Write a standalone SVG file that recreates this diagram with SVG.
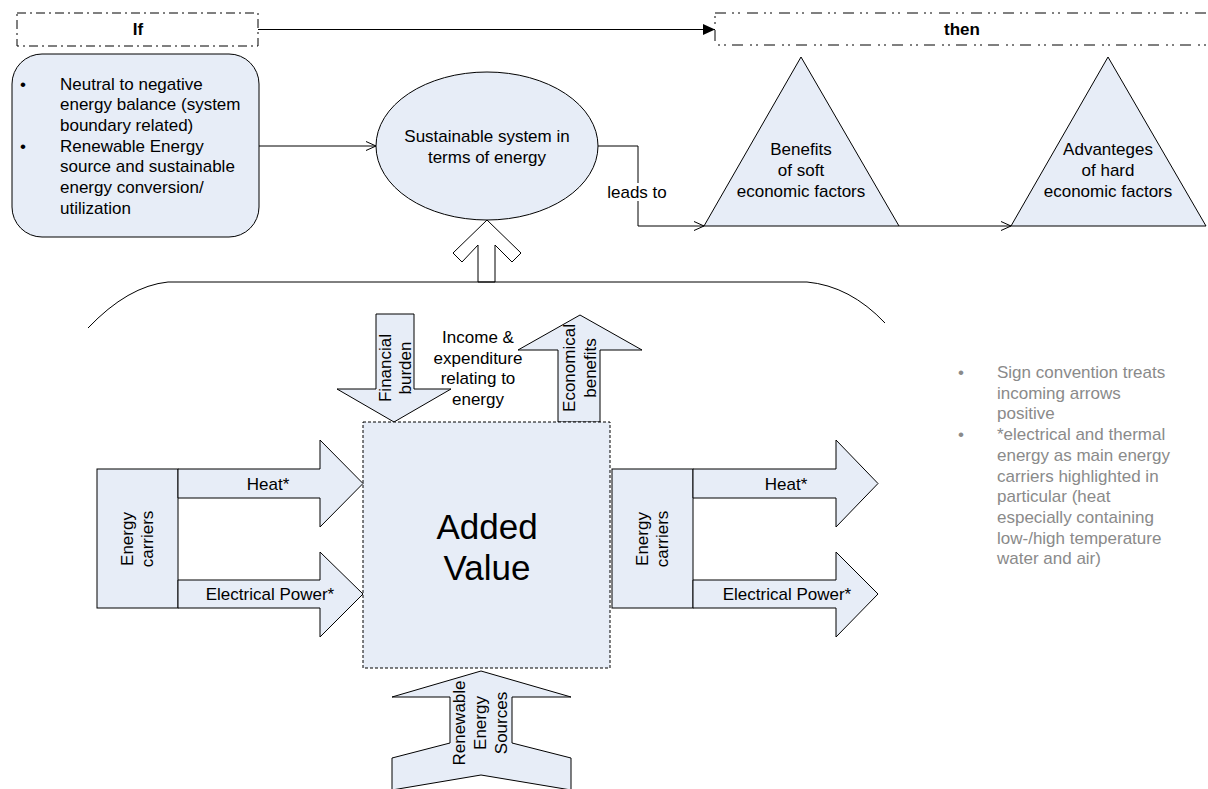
<svg xmlns="http://www.w3.org/2000/svg" width="1208" height="789" viewBox="0 0 1208 789">
<style>
.sh{fill:#e7edf7;stroke:#000;stroke-width:1}
.ol{fill:#fff;stroke:#000;stroke-width:1}
.ln{fill:none;stroke:#000;stroke-width:1}
.t{font-family:"Liberation Sans",Arial,sans-serif;font-size:17px;fill:#000}
.c{text-anchor:middle}
.b{font-weight:bold}
.g{fill:#8a8a8a}
.big{font-size:35px}
</style>
<defs>
<marker id="open" viewBox="0 0 10 10" refX="10" refY="5" markerWidth="10" markerHeight="10" markerUnits="userSpaceOnUse" orient="auto">
<path d="M0,0.5 L10,5 L0,9.5" fill="none" stroke="#000" stroke-width="1"/>
</marker>
<marker id="solid" viewBox="0 0 12 11" refX="12" refY="5.5" markerWidth="12" markerHeight="11" markerUnits="userSpaceOnUse" orient="auto">
<path d="M0,0 L12,5.5 L0,11 z" fill="#000"/>
</marker>
</defs>
<rect width="1208" height="789" fill="#fff"/>

<g id="connectors">
<line class="ln" x1="258" y1="29.5" x2="715" y2="29.5" marker-end="url(#solid)"/>
<line class="ln" x1="259" y1="146" x2="376" y2="146" marker-end="url(#open)"/>
<polyline class="ln" points="598,146 638,146 638,226 704,226" marker-end="url(#open)"/>
<rect x="615" y="183" width="45" height="18" fill="#fff"/>
<text class="t c" x="637" y="198">leads to</text>
<line class="ln" x1="899" y1="226" x2="1011" y2="226" marker-end="url(#open)"/>
</g>

<g id="if">
<rect x="17" y="13" width="241" height="33" fill="#fff" stroke="#000" stroke-width="1" stroke-dasharray="9 4 2 4"/>
<text class="t c b" x="138" y="35">If</text>
</g>

<g id="then">
<rect x="715" y="13" width="510" height="32" fill="#fff" stroke="#000" stroke-width="1" stroke-dasharray="11 6 2 4 2 7"/>
<text class="t c b" x="962" y="35">then</text>
</g>

<g id="conditions">
<rect class="sh" x="12" y="54" width="247" height="183" rx="30" ry="30"/>
<text class="t" x="20" y="89.5">•</text>
<text class="t" x="60" y="89.5">Neutral to negative</text>
<text class="t" x="60" y="110.2">energy balance (system</text>
<text class="t" x="60" y="130.9">boundary related)</text>
<text class="t" x="20" y="151.6">•</text>
<text class="t" x="60" y="151.6">Renewable Energy</text>
<text class="t" x="60" y="172.3">source and sustainable</text>
<text class="t" x="60" y="193">energy conversion/</text>
<text class="t" x="60" y="213.7">utilization</text>
</g>

<g id="sustainable">
<ellipse class="sh" cx="487" cy="146" rx="111" ry="74"/>
<text class="t c" x="487" y="142">Sustainable system in</text>
<text class="t c" x="487" y="162.5">terms of energy</text>
</g>

<g id="soft">
<polygon class="sh" points="801,57 899,226 704,226"/>
<text class="t c" x="801" y="154.5">Benefits</text>
<text class="t c" x="801" y="175.5">of soft</text>
<text class="t c" x="801" y="196.5">economic factors</text>
</g>

<g id="hard">
<polygon class="sh" points="1108,57 1206,226 1011,226"/>
<text class="t c" x="1108" y="154.5">Advanteges</text>
<text class="t c" x="1108" y="175.5">of hard</text>
<text class="t c" x="1108" y="196.5">economic factors</text>
</g>

<g id="uparrow">
<polygon class="ol" points="487,220 521,253 512,262 495,245 495,282 478,282 478,245 462,262 453,253"/>
</g>

<g id="brace">
<path class="ln" d="M88,328 Q128,286 168,282 L807,282 Q850,286 885,323"/>
</g>

<g id="financial">
<polygon class="sh" points="376,314 414,314 414,389 451,389 394,422 337,389 376,389"/>
<g transform="translate(395,368) rotate(-90)">
<text class="t c" x="0" y="-4.5">Financial</text>
<text class="t c" x="0" y="16">burden</text>
</g>
</g>

<g id="income">
<text class="t c" x="478" y="343">Income &amp;</text>
<text class="t c" x="478" y="363.5">expenditure</text>
<text class="t c" x="478" y="384">relating to</text>
<text class="t c" x="478" y="404.5">energy</text>
</g>

<g id="economical">
<polygon class="sh" points="558,422 558,350 518,350 580,315 642,350 600,350 600,422"/>
<g transform="translate(579,368) rotate(-90)">
<text class="t c" x="0" y="-4.5">Economical</text>
<text class="t c" x="0" y="17">benefits</text>
</g>
</g>

<g id="addedvalue">
<rect x="363" y="422" width="247" height="246" fill="#e7edf7" stroke="#000" stroke-width="1" stroke-dasharray="3 2"/>
<text class="t c big" x="487" y="539">Added</text>
<text class="t c big" x="487" y="580">Value</text>
</g>

<g id="carriers-left">
<rect class="sh" x="97" y="469" width="81" height="139"/>
<g transform="translate(137,539) rotate(-90)">
<text class="t c" x="0" y="-4.5">Energy</text>
<text class="t c" x="0" y="16">carriers</text>
</g>
</g>

<g id="heat-left">
<polygon class="sh" points="178,469 320,469 320,440 363,483.5 320,527 320,498 178,498"/>
<text class="t c" x="268" y="489.5">Heat*</text>
</g>

<g id="power-left">
<polygon class="sh" points="178,580 320,580 320,552 363,594 320,637 320,608 178,608"/>
<text class="t c" x="270" y="600">Electrical Power*</text>
</g>

<g id="carriers-right">
<rect class="sh" x="612" y="469" width="81" height="139"/>
<g transform="translate(652,539) rotate(-90)">
<text class="t c" x="0" y="-4.5">Energy</text>
<text class="t c" x="0" y="16">carriers</text>
</g>
</g>

<g id="heat-right">
<polygon class="sh" points="693,469 836,469 836,440 878,483.5 836,527 836,498 693,498"/>
<text class="t c" x="786" y="489.5">Heat*</text>
</g>

<g id="power-right">
<polygon class="sh" points="693,580 836,580 836,552 878,594 836,637 836,608 693,608"/>
<text class="t c" x="787" y="600">Electrical Power*</text>
</g>

<g id="renewable">
<polygon class="sh" points="481,671 571,697 512,697 512,743 571,758 571,790 481,775 392,790 392,758 450,743 450,697 392,697"/>
<g transform="translate(481,723) rotate(-90)">
<text class="t c" x="0" y="-16">Renewable</text>
<text class="t c" x="0" y="5">Energy</text>
<text class="t c" x="0" y="26">Sources</text>
</g>
</g>

<g id="notes">
<text class="t g" x="958" y="378">•</text>
<text class="t g" x="997" y="378">Sign convention treats</text>
<text class="t g" x="997" y="398.7">incoming arrows</text>
<text class="t g" x="997" y="419.4">positive</text>
<text class="t g" x="958" y="440.1">•</text>
<text class="t g" x="997" y="440.1">*electrical and thermal</text>
<text class="t g" x="997" y="460.8">energy as main energy</text>
<text class="t g" x="997" y="481.5">carriers highlighted in</text>
<text class="t g" x="997" y="502.2">particular (heat</text>
<text class="t g" x="997" y="522.9">especially containing</text>
<text class="t g" x="997" y="543.6">low-/high temperature</text>
<text class="t g" x="997" y="564.3">water and air)</text>
</g>
</svg>
